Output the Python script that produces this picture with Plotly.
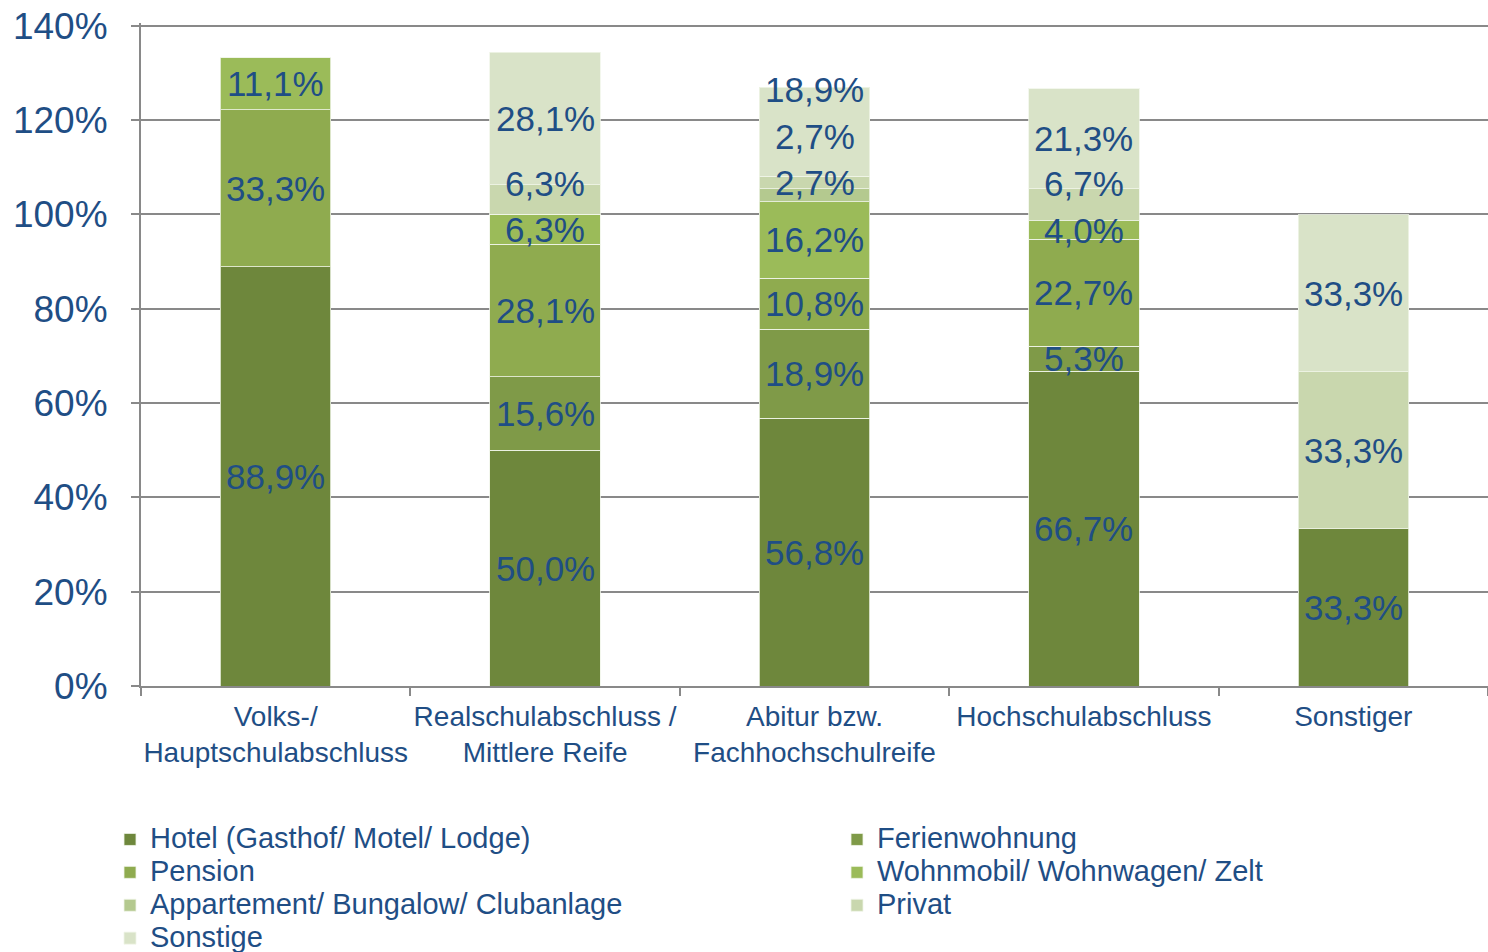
import plotly.graph_objects as go

categories = [
    "Volks-/<br>Hauptschulabschluss",
    "Realschulabschluss /<br>Mittlere Reife",
    "Abitur bzw.<br>Fachhochschulreife",
    "Hochschulabschluss",
    "Sonstiger",
]

series_names = [
    "Hotel (Gasthof/ Motel/ Lodge)",
    "Ferienwohnung",
    "Pension",
    "Wohnmobil/ Wohnwagen/ Zelt",
    "Appartement/ Bungalow/ Clubanlage",
    "Privat",
    "Sonstige",
]

hotel = [88.9, 50.0, 56.8, 66.7, 33.3]
ferienwohnung = [0.0, 15.6, 18.9, 5.3, 0.0]
pension = [33.3, 28.1, 10.8, 22.7, 0.0]
wohnmobil = [11.1, 6.3, 16.2, 4.0, 0.0]
appartement = [0.0, 0.0, 2.7, 0.0, 0.0]
privat = [0.0, 6.3, 2.7, 6.7, 33.3]
sonstige = [0.0, 28.1, 18.9, 21.3, 33.3]

series_values = [hotel, ferienwohnung, pension, wohnmobil, appartement, privat, sonstige]

y_ticks = [0, 20, 40, 60, 80, 100, 120, 140]
y_tick_labels = [f"{t}%" for t in y_ticks]

# styling
colors = ["#6E873C", "#7F9A48", "#8FAB4F", "#9BBB59", "#B4C98F", "#C9D7AE", "#D9E3C8"]
TEXT = "#1F4E85"
FONT = "Liberation Sans, Arial, sans-serif"
GRID = "#898989"

W, H = 1488, 952

# left legend column gets series 0,2,4,6 ; right column 1,3,5
legend_of = ["legend", "legend2", "legend", "legend2", "legend", "legend2", "legend"]

# manual label nudges (in % units) to avoid overlapping labels, as in the original
label_nudge = {
    (5, 1): 3.4,
    (4, 2): 2.7,
    (5, 2): 9.7,
    (6, 2): 8.9,
    (5, 3): 4.6,
}

fig = go.Figure()
for i, (name, vals) in enumerate(zip(series_names, series_values)):
    fig.add_trace(go.Bar(
        x=categories, y=vals,
        name=f"<span style='font-size:29px'>{name}</span>",
        legend=legend_of[i],
        marker=dict(color=colors[i], line=dict(color="rgba(240,245,232,0.8)", width=1)),
        hoverinfo="skip",
    ))

annotations = []
base = [0.0] * len(categories)
for i, vals in enumerate(series_values):
    for j, v in enumerate(vals):
        if v > 0:
            yc = base[j] + v / 2 + label_nudge.get((i, j), 0.0)
            annotations.append(dict(
                x=categories[j], y=yc, xref="x", yref="y",
                text=f"{v:.1f}".replace(".", ",") + "%",
                showarrow=False, font=dict(family=FONT, size=35, color=TEXT),
                xanchor="center", yanchor="middle",
            ))
        base[j] += v

legend_common = dict(
    orientation="v", traceorder="normal",
    yref="container", yanchor="top", y=1 - 818 / H,
    xref="container", xanchor="left",
    font=dict(family=FONT, size=23, color=TEXT),
    bgcolor="rgba(0,0,0,0)", itemclick=False, itemdoubleclick=False,
)

fig.update_layout(
    width=W, height=H,
    barmode="stack", bargap=0.59,
    plot_bgcolor="white", paper_bgcolor="white",
    margin=dict(l=141, r=0, t=23, b=266, autoexpand=False),
    font=dict(family=FONT, color=TEXT),
    annotations=annotations,
    showlegend=True,
    legend=dict(x=110 / W, **legend_common),
    legend2=dict(x=837 / W, **legend_common),
    xaxis=dict(
        type="category", automargin=False, tickangle=0,
        showline=True, linecolor=GRID, linewidth=2,
        ticks="outside", tickson="boundaries", ticklen=8, tickcolor=GRID, tickwidth=2,
        tickfont=dict(family=FONT, size=28, color=TEXT),
        ticklabelstandoff=4,
        showgrid=False,
    ),
    yaxis=dict(
        range=[0, 140.6], tickmode="array", tickvals=y_ticks, ticktext=y_tick_labels,
        automargin=False,
        showline=True, linecolor=GRID, linewidth=2,
        ticks="outside", ticklen=8, tickcolor=GRID, tickwidth=2,
        tickfont=dict(family=FONT, size=37, color=TEXT),
        ticklabelstandoff=16,
        showgrid=True, gridcolor=GRID, gridwidth=1.5,
        zeroline=False,
    ),
)

fig.write_html(
    "out.html",
    config={"displayModeBar": False},
    post_script="document.body.style.margin='0';document.body.style.overflow='hidden';",
)
